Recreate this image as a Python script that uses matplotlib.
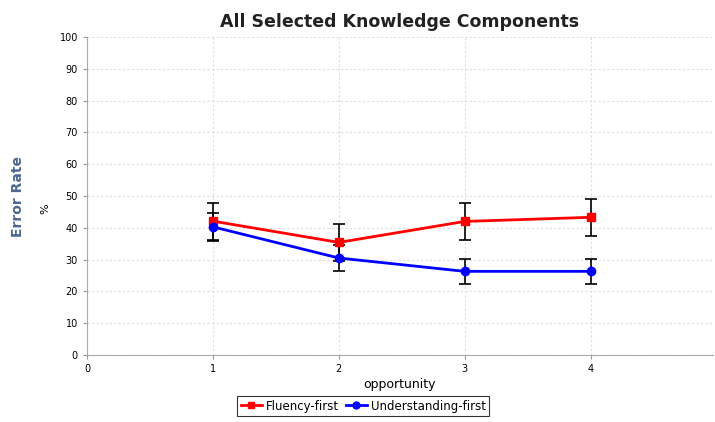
import matplotlib.pyplot as plt
from matplotlib.lines import Line2D

opportunity = [1, 2, 3, 4]

fluency = [42.1, 35.4, 42.0, 43.3]
fluency_err = [5.8, 5.7, 5.8, 5.8]

understanding = [40.3, 30.5, 26.3, 26.3]
understanding_err = [4.5, 4.1, 4.0, 4.0]

fig = plt.figure(figsize=(7.15, 4.22), dpi=100)
ax = fig.add_axes([0.1217, 0.1588, 0.875, 0.7535])

# error bars (black)
ax.errorbar(opportunity, fluency, yerr=fluency_err, fmt='none', ecolor='black',
            elinewidth=1.2, capsize=4, capthick=1.2, zorder=3)
ax.errorbar(opportunity, understanding, yerr=understanding_err, fmt='none',
            ecolor='black', elinewidth=1.2, capsize=4, capthick=1.2, zorder=3)

# lines + markers
ax.plot(opportunity, fluency, color='red', marker='s', markersize=6,
        linewidth=2, zorder=4)
ax.plot(opportunity, understanding, color='blue', marker='o', markersize=6,
        linewidth=2, zorder=4)

ax.set_xlim(0, 4.97)
ax.set_ylim(0, 100)
ax.set_xticks([0, 1, 2, 3, 4])
ax.set_yticks(range(0, 101, 10))
ax.tick_params(labelsize=7, length=3, color='#999999')
ax.grid(True, linestyle=(0, (2, 2)), color='#dddddd', linewidth=0.8)
ax.set_axisbelow(True)

for s in ['top', 'right']:
    ax.spines[s].set_visible(False)
for s in ['left', 'bottom']:
    ax.spines[s].set_color('#aaaaaa')

ax.set_title('All Selected Knowledge Components', fontsize=12.5,
             fontweight='bold', color='#222222', pad=7)
ax.set_xlabel('opportunity', fontsize=9, labelpad=3)

fig.text(0.025, 0.535, 'Error Rate', rotation=90, color='#4a6890',
         fontsize=10, fontweight='bold', ha='center', va='center')
fig.text(0.063, 0.505, '%', rotation=90, fontsize=8, ha='center', va='center')

handles = [
    Line2D([], [], color='red', marker='s', markersize=5, linewidth=2),
    Line2D([], [], color='blue', marker='o', markersize=5, linewidth=2),
]
leg = fig.legend(handles, ['Fluency-first', 'Understanding-first'],
                 loc='lower center', bbox_to_anchor=(0.508, 0.0), ncol=2,
                 fontsize=8.5, frameon=True, fancybox=False, handlelength=1.8,
                 handletextpad=0.3, columnspacing=0.6, borderpad=0.3)
leg.get_frame().set_edgecolor('black')
leg.get_frame().set_linewidth(0.8)

fig.savefig('out.png', dpi=100)
